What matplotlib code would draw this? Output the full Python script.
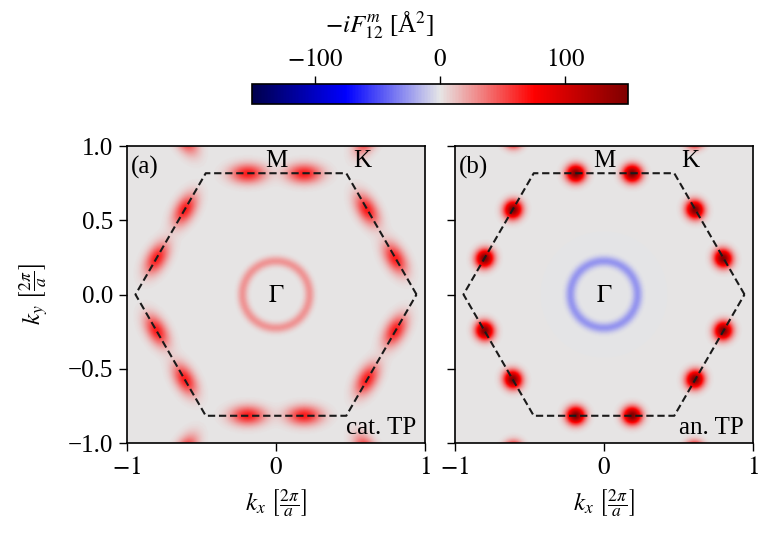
import numpy as np
import matplotlib
matplotlib.use("Agg")
import matplotlib.pyplot as plt
from matplotlib.colors import LinearSegmentedColormap

plt.rcParams["font.family"] = ["Liberation Serif", "DejaVu Serif"]
plt.rcParams["mathtext.fontset"] = "stix"
plt.rcParams["font.size"] = 18

# Brillouin-zone geometry (units of 2pi/a)
k_corner = 0.943
m_point = 0.8165

# hot spots of the Berry-curvature-like quantity, given in polar form
spot_radius = 0.838
spot_angles_deg = [16.9, 43.1, 76.9, 103.1, 136.9, 163.1,
                   196.9, 223.1, 256.9, 283.1, 316.9, 343.1]

panel_tags = ["(a)", "(b)"]
panel_names = ["cat. TP", "an. TP"]
spot_peak = [66.0, 150.0]
spot_sigma_par = [0.08, 0.042]
spot_sigma_perp = [0.044, 0.040]
ring_value = [26.0, -26.0]
ring_radius = 0.225
ring_sigma = 0.024

cbar_limits = (-150, 150)
cbar_ticks = [-100, 0, 100]
x_ticks = [-1, 0, 1]
y_ticks = [-1.0, -0.5, 0.0, 0.5, 1.0]

cmap = LinearSegmentedColormap.from_list(
    "bwr_gray",
    [(0.0, "#00004c"), (0.25, "#0000ff"), (0.5, "#e6e6e6"),
     (0.75, "#ff0000"), (1.0, "#7f0000")])


def spot_centres():
    """Hot spots of the first zone plus their copies in neighbouring zones."""
    gvecs = [(0.0, 0.0)] + [(2 * m_point * np.cos(np.radians(a)),
                             2 * m_point * np.sin(np.radians(a)))
                            for a in range(30, 360, 60)]
    out = []
    for ang in spot_angles_deg:
        t = np.radians(ang)
        base = np.array([spot_radius * np.cos(t), spot_radius * np.sin(t)])
        normal = np.radians(np.round((ang - 30) / 60) * 60 + 30)
        for g in gvecs:
            c = base + np.array(g)
            if np.max(np.abs(c)) > 1.25:
                continue
            if any(np.hypot(*(c - o[0])) < 0.05 for o in out):
                continue
            out.append((c, normal))
    return out


def field(idx, kx, ky):
    r = np.hypot(kx, ky)
    f = ring_value[idx] * np.exp(-0.5 * ((r - ring_radius) / ring_sigma) ** 2)
    for c, normal in spot_centres():
        dx, dy = kx - c[0], ky - c[1]
        perp = dx * np.cos(normal) + dy * np.sin(normal)
        par = -dx * np.sin(normal) + dy * np.cos(normal)
        f = f + spot_peak[idx] * np.exp(-0.5 * (par / spot_sigma_par[idx]) ** 2
                                        - 0.5 * (perp / spot_sigma_perp[idx]) ** 2)
    return f


n = 500
kx, ky = np.meshgrid(np.linspace(-1, 1, n), np.linspace(-1, 1, n))

hex_ang = np.radians(np.arange(0, 361, 60))
hex_x = k_corner * np.cos(hex_ang)
hex_y = k_corner * np.sin(hex_ang)

fig = plt.figure(figsize=(7.6, 5.33), dpi=100)
ax_left = [127 / 760, 455 / 760]
axes = []
for i in range(2):
    ax = fig.add_axes([ax_left[i], 1 - 443 / 533, 298 / 760, 297 / 533])
    im = ax.imshow(field(i, kx, ky), extent=[-1, 1, -1, 1], origin="lower",
                   cmap=cmap, vmin=cbar_limits[0], vmax=cbar_limits[1],
                   interpolation="bilinear", aspect="auto")
    ax.plot(hex_x, hex_y, color="#1a1a1a", lw=1.5, ls=(0, (3.5, 1.8)))
    ax.set_xlim(-1, 1)
    ax.set_ylim(-1, 1)
    ax.set_xticks(x_ticks)
    ax.set_yticks(y_ticks)
    ax.set_xticklabels([f"${t}$" if t >= 0 else f"$-{abs(t)}$" for t in x_ticks])
    if i == 0:
        ax.set_yticklabels([f"{t:.1f}".replace("-", "\u2212") for t in y_ticks])
        ax.set_ylabel(r"$k_y\ \left[\frac{2\pi}{a}\right]$", labelpad=12)
    else:
        ax.set_yticklabels([])
    ax.set_xlabel(r"$k_x\ \left[\frac{2\pi}{a}\right]$", labelpad=6)
    ax.tick_params(direction="out", length=6, width=1.0, pad=4)
    for s in ax.spines.values():
        s.set_linewidth(1.2)
    ax.text(0.012, 0.965, panel_tags[i], transform=ax.transAxes,
            ha="left", va="top")
    ax.text(0.97, 0.012, panel_names[i], transform=ax.transAxes,
            ha="right", va="bottom")
    ax.text(0.0, 0.9, "M", ha="center", va="center")
    ax.text(0.58, 0.9, "K", ha="center", va="center")
    ax.text(0.0, -0.01, r"$\Gamma$", ha="center", va="center")
    axes.append(ax)

cax = fig.add_axes([252 / 760, 1 - 104 / 533, 376 / 760, 20 / 533])
cb = fig.colorbar(im, cax=cax, orientation="horizontal", ticks=cbar_ticks)
cax.xaxis.set_ticks_position("top")
cax.set_xticklabels([f"${t}$" if t >= 0 else f"$-{abs(t)}$" for t in cbar_ticks])
cax.tick_params(direction="out", length=6, width=1.0, pad=3)
cb.outline.set_linewidth(1.2)
cax.text(0.5, 1 - 32 / 533, r"$-iF_{12}^{m}$ [Å$^2$]", transform=fig.transFigure,
         ha="center", va="baseline")

fig.savefig("out.png", dpi=100)
